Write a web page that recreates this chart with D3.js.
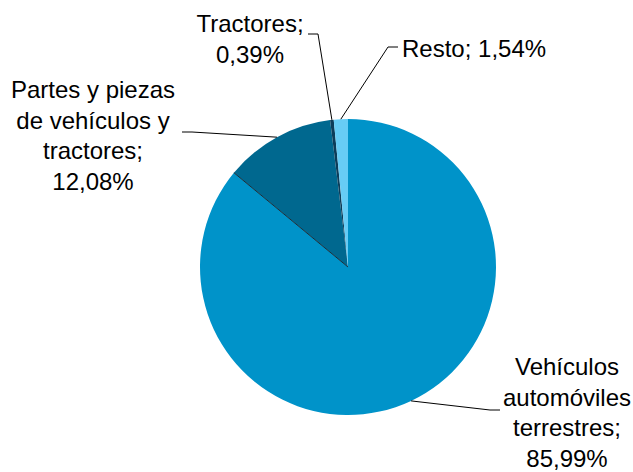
<!DOCTYPE html>
<html>
<head>
<meta charset="utf-8">
<script src="https://cdn.jsdelivr.net/npm/d3@7"></script>
<style>
  body { margin: 0; background: #fff; }
  text { font-family: "Liberation Sans", Arial, sans-serif; font-size: 24px; fill: #000; }
</style>
</head>
<body>
<svg width="633" height="472"></svg>
<script>
// data, clockwise from 12 o'clock
const categories = ["Vehículos automóviles terrestres", "Partes y piezas de vehículos y tractores", "Tractores", "Resto"]
const values = [85.99, 12.08, 0.39, 1.54]
const labelLines = [
  ["Vehículos", "automóviles", "terrestres;", "85,99%"],
  ["Partes y piezas", "de vehículos y", "tractores;", "12,08%"],
  ["Tractores;", "0,39%"],
  ["Resto; 1,54%"]
]
const colors = ["#0093c9", "#00688f", "#0c3d5a", "#66ccf5"]

const svg = d3.select("svg")
const cx = 348, cy = 267, r = 148

// label placement: text anchor x, first baseline y, leader elbow points
const layout = [
  { x: 567, y: 375, anchor: "middle", elbow: [[500, 410], [490, 410]] },
  { x: 93, y: 98, anchor: "middle", elbow: [[182, 132], [192, 132]] },
  { x: 250, y: 32, anchor: "middle", elbow: [[308, 34], [318, 34]] },
  { x: 402, y: 57, anchor: "start", elbow: [[398, 47], [388, 47]] }
]

const pie = d3.pie().sort(null).value(function(d) { return d })
const arcs = pie(values)
const arc = d3.arc().innerRadius(0).outerRadius(r)

const g = svg.append("g").attr("transform", "translate(" + cx + "," + cy + ")")

g.selectAll("path.slice")
  .data(arcs)
  .enter().append("path")
  .attr("class", "slice")
  .attr("d", arc)
  .attr("fill", function(d, i) { return colors[i] })

// thin dark edge where the parts slice begins
const edge = d3.pointRadial(arcs[1].startAngle, r)
g.append("line")
  .attr("x1", 0).attr("y1", 0)
  .attr("x2", edge[0]).attr("y2", edge[1])
  .attr("stroke", "#1b2d38")
  .attr("stroke-width", 1)

// leader lines
const line = d3.line()
svg.selectAll("path.leader")
  .data(arcs)
  .enter().append("path")
  .attr("class", "leader")
  .attr("fill", "none")
  .attr("stroke", "#000")
  .attr("stroke-width", 1)
  .attr("d", function(d, i) {
    const mid = (d.startAngle + d.endAngle) / 2
    const p = d3.pointRadial(mid, r)
    const pts = layout[i].elbow.concat([[cx + p[0], cy + p[1]]])
    return line(pts)
  })

// labels
labelLines.forEach(function(lines, i) {
  const t = svg.append("text")
    .attr("x", layout[i].x)
    .attr("y", layout[i].y)
    .attr("text-anchor", layout[i].anchor)
  lines.forEach(function(s, j) {
    t.append("tspan")
      .attr("x", layout[i].x)
      .attr("dy", j === 0 ? 0 : 30.5)
      .text(s)
  })
})
</script>
</body>
</html>
